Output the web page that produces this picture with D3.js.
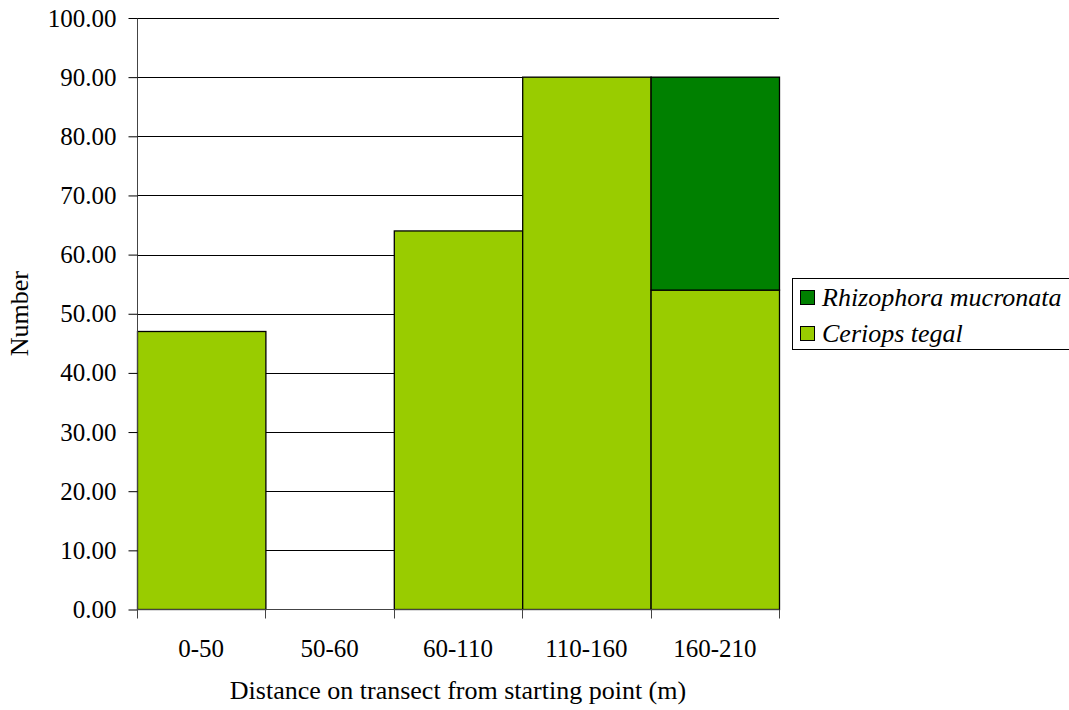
<!DOCTYPE html>
<html>
<head>
<meta charset="utf-8">
<script src="https://cdn.jsdelivr.net/npm/d3@7"></script>
<style>
  body { margin: 0; background: #fff; }
  svg { display: block; }
  text { font-family: "Liberation Serif", "Times New Roman", serif; fill: #000; }
</style>
</head>
<body>
<svg id="chart" width="1069" height="710"></svg>
<script>
// Distance classes along the transect
const categories = ["0-50", "50-60", "60-110", "110-160", "160-210"];
// Counts per species in each distance class
const ceriops = [47, 0, 64, 90, 54];
const rhizophora = [0, 0, 0, 0, 36];
const yTicks = [0, 10, 20, 30, 40, 50, 60, 70, 80, 90, 100];
const seriesNames = ["Ceriops tegal", "Rhizophora mucronata"];
const seriesColors = ["#99CC00", "#008000"];

(function () {
const svg = d3.select("#chart");
const plotL = 137, plotR = 779, plotT = 18, plotB = 609.5;
const fontSize = "25px";
const titleSize = "26px";

const x = d3.scaleBand().domain(categories).range([plotL, plotR]).padding(0);
const y = d3.scaleLinear().domain([0, 100]).range([plotB, plotT]);

// Horizontal gridlines
svg.append("g")
  .selectAll("line")
  .data(yTicks.filter(d => d > 0))
  .join("line")
  .attr("x1", plotL).attr("x2", plotR)
  .attr("y1", d => Math.round(y(d)) + 0.5).attr("y2", d => Math.round(y(d)) + 0.5)
  .attr("stroke", "#000").attr("stroke-width", 1);

// Stacked bars
const rows = categories.map((c, i) => ({ cat: c, "Ceriops tegal": ceriops[i], "Rhizophora mucronata": rhizophora[i] }));
const stack = d3.stack().keys(seriesNames)(rows);

svg.append("g")
  .selectAll("g")
  .data(stack)
  .join("g")
  .attr("fill", (d, i) => seriesColors[i])
  .selectAll("rect")
  .data(d => d.filter(p => p[1] - p[0] > 0))
  .join("rect")
  .attr("x", d => x(d.data.cat) + 0.5)
  .attr("width", x.bandwidth())
  .attr("y", d => y(d[1]))
  .attr("height", d => y(d[0]) - y(d[1]))
  .attr("stroke", "#000").attr("stroke-width", 1.3);

// Y axis
const yAxis = d3.axisLeft(y).tickValues(yTicks).tickFormat(d3.format(".2f")).tickSize(9).tickPadding(12);
const gy = svg.append("g").attr("transform", `translate(${plotL + 0.5},0)`).call(yAxis);
gy.attr("font-family", null);
gy.select(".domain").attr("stroke", "#444").attr("d", `M0,${plotT}V${plotB}`);
gy.selectAll(".tick line").attr("stroke", "#000");
gy.selectAll("text").style("font-size", fontSize).attr("fill", "#000");

// X axis
const gx = svg.append("g").attr("transform", `translate(0,${plotB})`);
gx.append("line").attr("x1", plotL).attr("x2", plotR).attr("y1", 0).attr("y2", 0).attr("stroke", "#444");
const edges = categories.map(c => x(c)).concat([plotR]);
gx.selectAll(".edge").data(edges).join("line")
  .attr("class", "edge")
  .attr("x1", d => Math.round(d) + 0.5).attr("x2", d => Math.round(d) + 0.5)
  .attr("y1", 0).attr("y2", 9).attr("stroke", "#444");
gx.selectAll(".lbl").data(categories).join("text")
  .attr("class", "lbl")
  .attr("x", d => x(d) + x.bandwidth() / 2)
  .attr("y", 47)
  .attr("text-anchor", "middle")
  .style("font-size", fontSize)
  .text(d => d);

// Axis titles
svg.append("text")
  .attr("x", 458).attr("y", 699)
  .attr("text-anchor", "middle").style("font-size", titleSize)
  .text("Distance on transect from starting point (m)");
svg.append("text")
  .attr("transform", `translate(28,${(plotT + plotB) / 2}) rotate(-90)`)
  .attr("text-anchor", "middle").style("font-size", titleSize)
  .text("Number");

// Legend
const lg = svg.append("g");
lg.append("rect").attr("x", 792.5).attr("y", 278.5).attr("width", 290).attr("height", 71)
  .attr("fill", "#fff").attr("stroke", "#000");
const legendItems = [
  { name: "Rhizophora mucronata", color: seriesColors[1] },
  { name: "Ceriops tegal", color: seriesColors[0] }
];
legendItems.forEach((d, i) => {
  const base = 306 + i * 36;
  lg.append("rect").attr("x", 800.5).attr("y", base - 15.5).attr("width", 14).attr("height", 14)
    .attr("fill", d.color).attr("stroke", "#000");
  lg.append("text").attr("x", 822).attr("y", base)
    .style("font-size", titleSize).style("font-style", "italic")
    .text(d.name);
});
})();
</script>
</body>
</html>
